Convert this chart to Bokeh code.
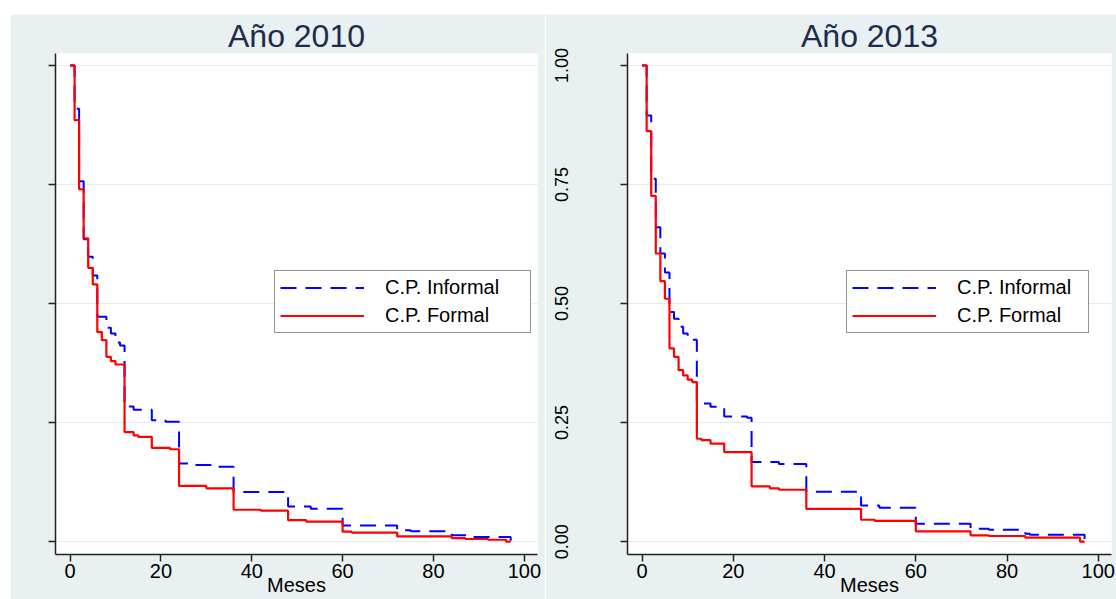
from bokeh.plotting import figure
from bokeh.models import Range1d, FixedTicker, Legend, LegendItem, NumeralTickFormatter
from bokeh.layouts import row
from bokeh.embed import file_html
from bokeh.resources import INLINE

# Kaplan-Meier survival estimates (share still unemployed) by month
months_inf_2010 = [0, 1, 2, 3, 4, 5, 6, 8, 9, 10, 11, 12, 14, 18, 21, 24, 27, 31, 36, 48, 53, 60, 72, 75, 84, 88, 97]
surv_inf_2010 = [1.0, 0.909, 0.757, 0.635, 0.598, 0.559, 0.472, 0.449, 0.437, 0.418, 0.412, 0.284, 0.277,
                 0.255, 0.252, 0.164, 0.161, 0.157, 0.104, 0.074, 0.069, 0.034, 0.0237, 0.022, 0.0132, 0.010, 0.0]

months_for_2010 = [0, 1, 2, 3, 4, 5, 6, 7, 8, 9, 10, 12, 14, 15, 18, 22, 24, 30, 36, 42, 48, 52, 60, 62, 72, 84, 87, 92, 96, 97]
surv_for_2010 = [1.0, 0.885, 0.740, 0.637, 0.575, 0.540, 0.440, 0.423, 0.388, 0.379, 0.372, 0.230, 0.223, 0.220,
                 0.197, 0.194, 0.117, 0.112, 0.067, 0.065, 0.045, 0.042, 0.021, 0.019, 0.011, 0.0075, 0.0055, 0.004, 0.0, 0.0]

months_inf_2013 = [0, 1, 2, 3, 4, 5, 6, 7, 8, 9, 10, 11, 12, 13, 15, 18, 23, 24, 30, 36, 48, 52, 60, 72, 76, 84, 85, 97]
surv_inf_2013 = [1.0, 0.895, 0.762, 0.660, 0.605, 0.565, 0.482, 0.468, 0.451, 0.437, 0.430, 0.424, 0.295, 0.290,
                 0.283, 0.263, 0.260, 0.167, 0.163, 0.105, 0.076, 0.0714, 0.0378, 0.0273, 0.0252, 0.0168, 0.0147, 0.0]

months_for_2013 = [0, 1, 2, 3, 4, 5, 6, 7, 8, 9, 10, 11, 12, 13, 15, 18, 24, 28, 30, 36, 48, 51, 60, 72, 76, 84, 96, 97]
surv_for_2013 = [1.0, 0.862, 0.726, 0.605, 0.547, 0.510, 0.406, 0.388, 0.360, 0.349, 0.340, 0.335, 0.216, 0.213,
                 0.206, 0.188, 0.116, 0.112, 0.109, 0.069, 0.046, 0.0437, 0.0216, 0.0132, 0.0118, 0.0084, 0.0, 0.0]

x_ticks = [0, 20, 40, 60, 80, 100]
y_ticks = [0, 0.25, 0.5, 0.75, 1.0]

series_labels = ["C.P. Informal", "C.P. Formal"]
titles = ["Año 2010", "Año 2013"]
x_title = "Meses"

BG = "#E8F0F2"
FONT = "Liberation Sans"
BLUE = "#0000FF"
RED = "#FF0000"


def panel(title, mi, si, mf, sf, width, left, right, show_y_labels, label_width):
    p = figure(width=width, height=585,
               x_range=Range1d(-3.2, 102.9), y_range=Range1d(-0.027, 1.025),
               output_backend="svg", toolbar_location=None,
               min_border_left=left, min_border_right=right,
               min_border_top=39, min_border_bottom=45)
    p.border_fill_color = BG
    p.background_fill_color = "white"
    p.outline_line_color = None

    p.title.text = title
    p.title.align = "center"
    p.title.text_font = FONT
    p.title.text_font_size = "32px"
    p.title.text_font_style = "normal"
    p.title.text_color = "#1E2B4D"
    p.title.standoff = 0

    xa = p.xaxis[0]
    xa.ticker = FixedTicker(ticks=x_ticks)
    xa.major_tick_out = 7
    xa.major_tick_in = 0
    xa.minor_tick_out = 0
    xa.minor_tick_in = 0
    xa.axis_line_width = 1.5
    xa.axis_line_color = "#222222"
    xa.major_tick_line_color = "#222222"
    xa.major_tick_line_width = 1.5
    xa.major_label_text_font = FONT
    xa.major_label_text_font_size = "20px"
    xa.major_label_text_color = "black"
    xa.major_label_standoff = 2
    xa.axis_label = x_title
    xa.axis_label_text_font = FONT
    xa.axis_label_text_font_size = "20px"
    xa.axis_label_text_font_style = "normal"
    xa.axis_label_text_color = "black"
    xa.axis_label_standoff = -7

    ya = p.yaxis[0]
    ya.ticker = FixedTicker(ticks=y_ticks)
    ya.formatter = NumeralTickFormatter(format="0.00")
    ya.major_tick_out = 7
    ya.major_tick_in = 0
    ya.minor_tick_out = 0
    ya.minor_tick_in = 0
    ya.axis_line_width = 1.5
    ya.axis_line_color = "#222222"
    ya.major_tick_line_color = "#222222"
    ya.major_tick_line_width = 1.5
    ya.major_label_text_font = FONT
    ya.major_label_text_font_size = "18px"
    ya.major_label_text_color = "black"
    ya.major_label_orientation = "vertical"
    if show_y_labels:
        ya.major_label_standoff = 52
    else:
        ya.major_label_overrides = {t: "" for t in y_ticks}
        ya.major_label_standoff = 0

    p.xgrid.visible = False
    p.ygrid.grid_line_color = "#E4ECEF"
    p.ygrid.grid_line_width = 1.2

    r_inf = p.step(mi, si, mode="after", line_color=BLUE, line_width=2, line_dash="16 9")
    r_for = p.step(mf, sf, mode="after", line_color=RED, line_width=2.2)

    legend = Legend(items=[LegendItem(label=series_labels[0], renderers=[r_inf]),
                           LegendItem(label=series_labels[1], renderers=[r_for])],
                    location=(219, 221))
    legend.glyph_width = 84
    legend.glyph_height = 21
    legend.label_height = 21
    legend.label_width = label_width
    legend.label_standoff = 21
    legend.padding = 5
    legend.spacing = 5
    legend.margin = 0
    legend.border_line_color = "#222222"
    legend.border_line_width = 1.5
    legend.background_fill_color = "white"
    legend.background_fill_alpha = 1.0
    legend.label_text_font = FONT
    legend.label_text_font_size = "20px"
    legend.label_text_color = "black"
    p.add_layout(legend)
    return p


p1 = panel(titles[0], months_inf_2010, surv_inf_2010, months_for_2010, surv_for_2010,
           width=535, left=45, right=8, show_y_labels=False, label_width=140)
p2 = panel(titles[1], months_inf_2013, surv_inf_2013, months_for_2013, surv_for_2013,
           width=571, left=82, right=5, show_y_labels=True, label_width=126)
p1.margin = (14, 0, 0, 10)
p2.margin = (14, 0, 0, 0)

layout = row(p1, p2, spacing=0)
open("out.html", "w").write(file_html(layout, INLINE))
